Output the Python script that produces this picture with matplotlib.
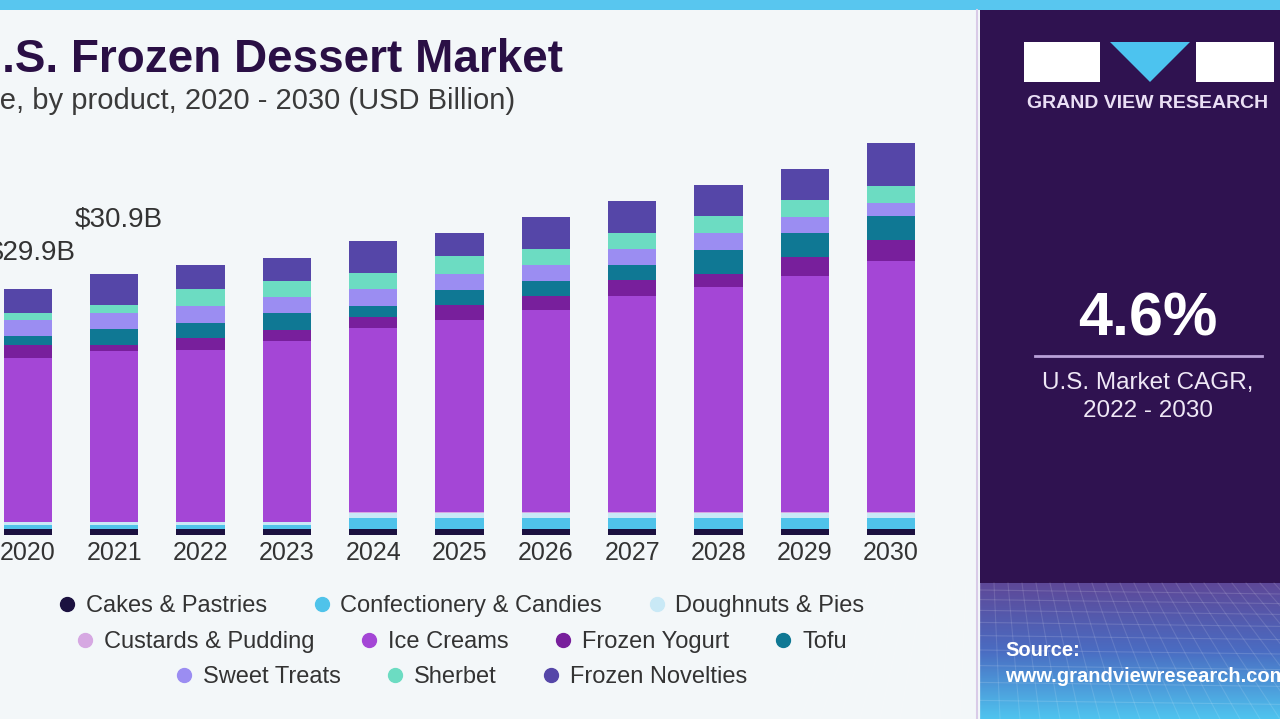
import matplotlib.pyplot as plt
import numpy as np
from matplotlib.lines import Line2D
from matplotlib.patches import Rectangle, Polygon

plt.rcParams['font.family'] = ['Liberation Sans', 'DejaVu Sans']

years = ['2020', '2021', '2022', '2023', '2024', '2025', '2026', '2027', '2028', '2029', '2030']

# USD billion (bottom to top)
cakes = [0.69, 0.69, 0.69, 0.69, 0.69, 0.69, 0.69, 0.69, 0.69, 0.69, 0.69]
confectionery = [0.52, 0.52, 0.52, 0.52, 1.34, 1.34, 1.34, 1.34, 1.34, 1.34, 1.34]
doughnuts = [0.36, 0.36, 0.36, 0.36, 0.68, 0.68, 0.68, 0.68, 0.68, 0.68, 0.68]
custards = [0.03, 0.03, 0.03, 0.03, 0.03, 0.03, 0.03, 0.03, 0.03, 0.03, 0.03]
ice_creams = [19.99, 20.80, 20.92, 22.06, 22.43, 23.44, 24.66, 26.28, 27.42, 28.71, 30.54]
frozen_yogurt = [1.55, 0.73, 1.42, 1.30, 1.41, 1.82, 1.62, 2.03, 1.62, 2.43, 2.55]
tofu = [1.01, 1.91, 1.90, 2.03, 1.30, 1.82, 1.82, 1.82, 2.92, 2.92, 3.00]
sweet_treats = [1.95, 2.02, 2.03, 1.95, 2.03, 1.95, 2.03, 1.91, 2.10, 1.87, 1.62]
sherbet = [0.94, 0.94, 2.03, 2.02, 2.02, 2.19, 1.91, 2.02, 1.95, 2.10, 1.95]
frozen_novelties = [2.88, 3.77, 2.96, 2.73, 3.86, 2.76, 3.89, 3.89, 3.86, 3.73, 5.28]

segments = ['Cakes & Pastries', 'Confectionery & Candies', 'Doughnuts & Pies',
            'Custards & Pudding', 'Ice Creams', 'Frozen Yogurt', 'Tofu',
            'Sweet Treats', 'Sherbet', 'Frozen Novelties']
series = [cakes, confectionery, doughnuts, custards, ice_creams, frozen_yogurt,
          tofu, sweet_treats, sherbet, frozen_novelties]
colors = ['#1b1140', '#4fc3ea', '#c9e9f6', '#d6a8e2', '#a446d6', '#781f9c',
          '#0f7894', '#9b8df2', '#6cdcc2', '#5546a8']

value_labels = {0: '$29.9B', 1: '$30.9B'}

W, H = 1280, 719
fig = plt.figure(figsize=(W / 100, H / 100), dpi=100)
fig.patch.set_facecolor('#f3f7f9')

# main bar chart, placed in pixel terms
px_per_unit = 8.22
bar_step = 86.3
ax = fig.add_axes([0, 1 - 535 / H, 960 / W, 405 / H])
ax.set_facecolor('none')
x = np.arange(len(years))
bottom = np.zeros(len(years))
for name, vals, c in zip(segments, series, colors):
    ax.bar(x, vals, 0.56, bottom=bottom, color=c, label=name, zorder=2)
    bottom += np.array(vals)
ax.set_xlim(-28 / bar_step, (960 - 28) / bar_step)
ax.set_ylim(0, 405 / px_per_unit)
for s in ax.spines.values():
    s.set_visible(False)
ax.set_yticks([])
ax.set_xticks(x)
ax.set_xticklabels(years, fontsize=18, color='#333333')
ax.tick_params(axis='x', length=0, pad=4)

ax.annotate(value_labels[0], (0, bottom[0]), xytext=(3, 26), textcoords='offset points',
            ha='center', va='center', fontsize=20, color='#333333')
ax.annotate(value_labels[1], (1, bottom[1]), xytext=(3, 39), textcoords='offset points',
            ha='center', va='center', fontsize=20, color='#333333')

# overlay in pixel coordinates for the decoration
ov = fig.add_axes([0, 0, 1, 1], zorder=5)
ov.set_xlim(0, W)
ov.set_ylim(H, 0)
ov.axis('off')
ov.patch.set_alpha(0)

ov.add_patch(Rectangle((0, 0), W, 10, color='#58c6ef', lw=0))
ov.text(563, 60, 'U.S. Frozen Dessert Market', ha='right', va='center',
        fontsize=33, fontweight='bold', color='#2a0f45')
ov.text(515, 101, 'Market size, by product, 2020 - 2030 (USD Billion)', ha='right',
        va='center', fontsize=21, color='#3a3a3a')

# right panel
ov.add_patch(Rectangle((980, 10), 300, 573, color='#2f1250', lw=0))
ov.plot([977, 977], [10, H], color='#d9cbe8', lw=1.5)
grad = np.linspace(0, 1, 200)[:, None]
cmap = plt.matplotlib.colors.LinearSegmentedColormap.from_list(
    'g', ['#5e4898', '#4a6cc2', '#4fc4ef'])
ov.imshow(grad, cmap=cmap, extent=(980, W, H, 583), aspect='auto', zorder=0)
for k in range(14):
    yy = 590 + 9 * k + 0.6 * k * k
    ov.plot([980, W], [yy, yy + 4], color='white', alpha=0.14, lw=0.8)
for k in range(-10, 30):
    ov.plot([980 + k * 14, 980 + k * 20], [583, H], color='white', alpha=0.12, lw=0.8)
ov.set_xlim(0, W)
ov.set_ylim(H, 0)

ov.add_patch(Rectangle((1024, 42), 76, 40, color='white', lw=0))
ov.add_patch(Polygon([[1110, 42], [1190, 42], [1150, 82]], color='#4cc3ef', lw=0))
ov.add_patch(Rectangle((1196, 42), 78, 40, color='white', lw=0))
ov.text(1148, 103, 'GRAND VIEW RESEARCH', ha='center', va='center', fontsize=14,
        fontweight='bold', color='#eadff5')

ov.text(1148, 320, '4.6%', ha='center', va='center', fontsize=44,
        fontweight='bold', color='white')
ov.plot([1035, 1262], [356, 356], color='#b9a0d8', lw=2)
ov.text(1148, 383, 'U.S. Market CAGR,', ha='center', va='center', fontsize=17.5,
        color='#efe8f6')
ov.text(1148, 411, '2022 - 2030', ha='center', va='center', fontsize=17.5,
        color='#efe8f6')

ov.text(1005, 650, 'Source:', ha='left', va='center', fontsize=14.5,
        fontweight='bold', color='white')
ov.text(1005, 677, 'www.grandviewresearch.com', ha='left', va='center', fontsize=14.5,
        fontweight='bold', color='white')

# legend in three centred rows
rows = [[0, 1, 2], [3, 4, 5, 6], [7, 8, 9]]
row_y = [606, 642, 677]
for idx, yy in zip(rows, row_y):
    handles = [Line2D([], [], marker='o', ls='', markersize=10, color=colors[i]) for i in idx]
    fig.legend(handles, [segments[i] for i in idx], loc='center',
               bbox_to_anchor=(460 / W, 1 - yy / H), ncol=len(idx), frameon=False,
               fontsize=17, labelcolor='#333333', handletextpad=0.3,
               columnspacing=1.8, borderpad=0, handlelength=1)

fig.savefig('out.png', dpi=100, facecolor=fig.get_facecolor())
